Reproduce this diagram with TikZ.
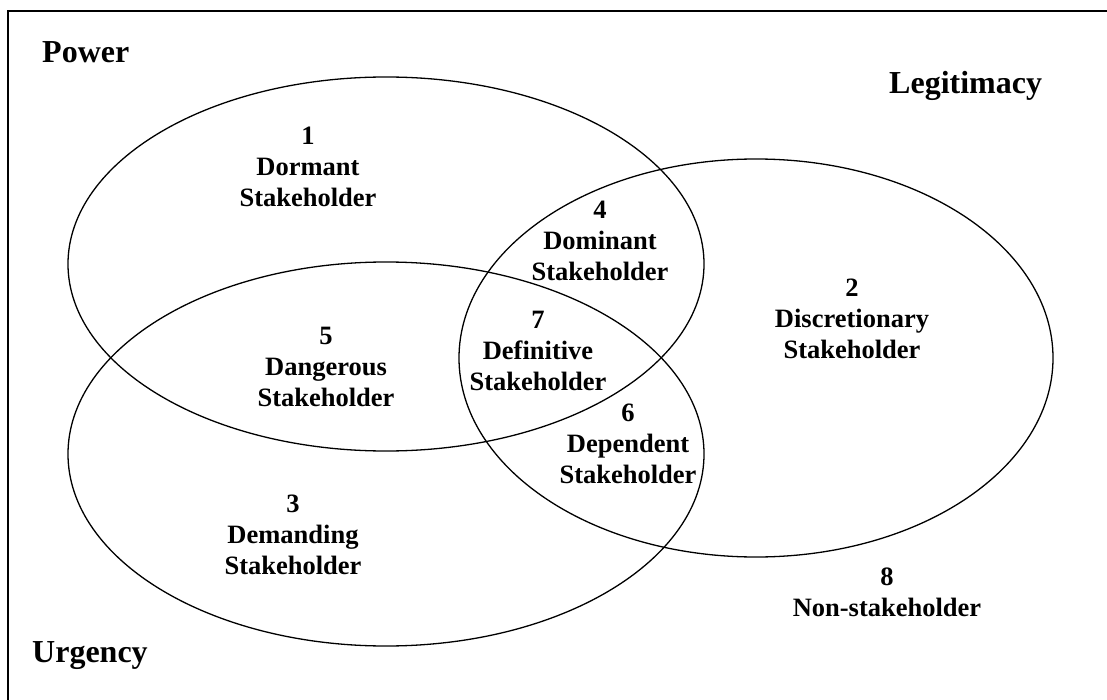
\documentclass[tikz,border=0pt]{standalone}
\usepackage{fontspec}
\setmainfont{Liberation Serif}
\begin{document}
\begin{tikzpicture}[x=1pt,y=-1pt,
  set/.style={draw=black,line width=1.3pt},
  lbl/.style={font=\bfseries\fontsize{26.5}{31}\selectfont,align=center,inner sep=0pt,anchor=north},
  cat/.style={font=\bfseries\fontsize{32}{36}\selectfont,inner sep=0pt,anchor=west}]
\useasboundingbox (0,0) rectangle (1107,700);
\clip (0,0) rectangle (1107,700);
% frame (its right and bottom sides lie outside the page)
\draw[line width=1.5pt] (8,11) rectangle (1130,720);
% the three attribute sets
\draw[set] (386,264) ellipse [x radius=318, y radius=187];
\draw[set] (756,358) ellipse [x radius=297, y radius=199];
\draw[set] (386,454) ellipse [x radius=318, y radius=192];
% set names
\node[cat] (power) at (42,52) {Power};
\node[cat] (legit) at (889,86) {Legitimacy};
\node[cat] (urg) at (32,656) {Urgency};
% stakeholder classes
\node[lbl] (c1) at (308,127) {1\\Dormant\\Stakeholder};
\node[lbl] (c4) at (600,201) {4\\Dominant\\Stakeholder};
\node[lbl] (c2) at (852,279) {2\\Discretionary\\Stakeholder};
\node[lbl] (c7) at (538,311) {7\\Definitive\\Stakeholder};
\node[lbl] (c5) at (326,327) {5\\Dangerous\\Stakeholder};
\node[lbl] (c6) at (628,404) {6\\Dependent\\Stakeholder};
\node[lbl] (c3) at (293,495) {3\\Demanding\\Stakeholder};
\node[lbl] (c8) at (887,568) {8\\Non-stakeholder};
\end{tikzpicture}
\end{document}
